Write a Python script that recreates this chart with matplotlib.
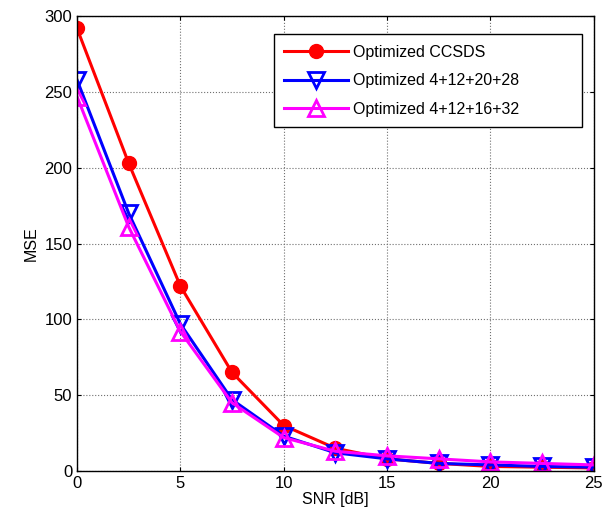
import matplotlib
matplotlib.use("Agg")
import matplotlib.pyplot as plt

snr = [0, 2.5, 5, 7.5, 10, 12.5, 15, 17.5, 20, 22.5, 25]
mse_ccsds = [292, 203, 122, 65, 30, 15, 8, 5, 3, 2.5, 2]
mse_a = [258, 170, 97, 47, 23, 12, 8, 5, 4, 3, 2.5]
mse_b = [247, 161, 92, 45, 22, 13, 10, 8, 6, 5, 4]
labels = ["Optimized CCSDS", "Optimized 4+12+20+28", "Optimized 4+12+16+32"]

plt.rcParams['font.family'] = ['Liberation Sans', 'DejaVu Sans']
fig = plt.figure(figsize=(6.16, 5.21), dpi=100)
ax = fig.add_axes([0.125, 0.096, 0.839, 0.873])

ax.plot(snr, mse_ccsds, color='red', lw=2.2, marker='o', ms=10, mfc='red', mec='red', label=labels[0])
ax.plot(snr, mse_a, color='blue', lw=2.2, marker='v', ms=11, mfc='none', mec='blue', mew=2, label=labels[1])
ax.plot(snr, mse_b, color='magenta', lw=2.2, marker='^', ms=11, mfc='none', mec='magenta', mew=2, label=labels[2])

ax.set_xlim(0, 25)
ax.set_ylim(0, 300)
ax.set_xticks([0, 5, 10, 15, 20, 25])
ax.set_yticks([0, 50, 100, 150, 200, 250, 300])
ax.grid(True, color='#707070', linestyle=':', linewidth=0.8)
ax.tick_params(direction='in', labelsize=12, top=True, right=True, length=3)
ax.set_xlabel("SNR [dB]", fontsize=11.5, labelpad=1)
ax.set_ylabel("MSE", fontsize=11.5)
for s in ax.spines.values():
    s.set_linewidth(1)

leg = ax.legend(loc='upper left', bbox_to_anchor=(0.381, 0.758, 0.596, 0.202), mode='expand',
                fontsize=11.5, fancybox=False, edgecolor='black', framealpha=1,
                handlelength=4.0, borderpad=0.65, labelspacing=0.85, handletextpad=0.3,
                borderaxespad=0)
leg.get_frame().set_linewidth(1)

fig.savefig("out.png", dpi=100)
